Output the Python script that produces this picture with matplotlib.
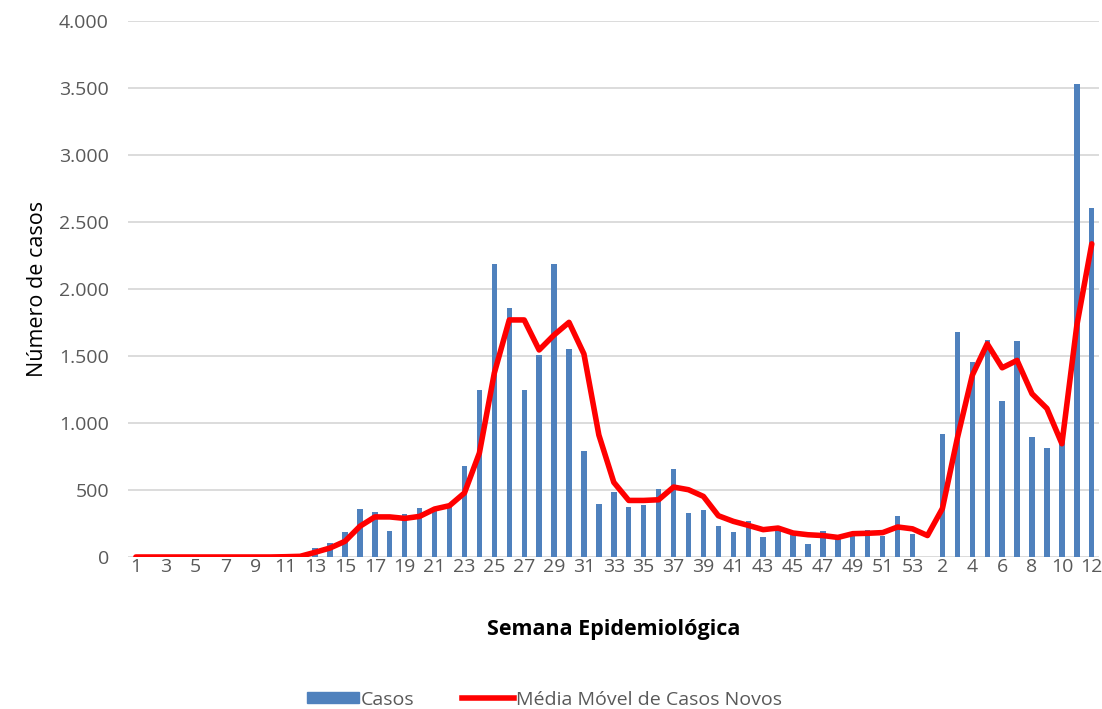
import matplotlib.pyplot as plt
import numpy as np
from matplotlib.ticker import FuncFormatter
from matplotlib.patches import Patch
from matplotlib.lines import Line2D

# semanas epidemiologicas: 1..53 (2020) + 1..12 (2021)
weeks = list(range(1, 54)) + list(range(1, 13))

casos = [0, 0, 0, 0, 0, 0, 0, 0, 0, 0,
         0, 10, 65, 105, 190, 358, 333, 196, 323, 368,
         340, 378, 680, 1249, 2187, 1858, 1249, 1508, 2189, 1552,
         791, 395, 485, 373, 390, 505, 660, 329, 354, 234,
         187, 271, 147, 204, 184, 95, 194, 150, 155, 202,
         155, 307, 169,
         0, 920, 1680, 1453, 1619, 1163, 1610, 892, 812, 870, 3533, 2605]

media_movel = [0, 0, 0, 0, 0, 0, 0, 0, 0, 0,
               2, 5, 35, 67, 117, 229, 299, 299, 288, 303,
               358, 383, 478, 776, 1373, 1769, 1769, 1545, 1657, 1751,
               1515, 910, 557, 422, 422, 427, 522, 502, 452, 308,
               266, 236, 204, 216, 179, 166, 160, 146, 174, 177,
               182, 224, 210,
               160, 362, 887, 1356, 1591, 1412, 1467, 1218, 1108, 845, 1729, 2337]

x = np.arange(len(weeks))
FONT = "Open Sans"

fig = plt.figure(figsize=(11.02, 7.09), dpi=100)
ax = fig.add_axes([0.1165, 0.2144, 0.881, 0.756])

ax.bar(x, casos, width=0.36, color="#4F81BD", zorder=2)
ax.plot(x, media_movel, color="#FF0000", lw=4,
        solid_joinstyle="round", solid_capstyle="round", zorder=3)

ax.set_xlim(-0.5, len(weeks) - 0.5)
ax.set_ylim(0, 4000)
ax.set_yticks(np.arange(0, 4001, 500))
ax.yaxis.set_major_formatter(FuncFormatter(lambda v, p: f"{int(v):,}".replace(",", ".")))
ax.set_xticks(x[::2])
ax.set_xticklabels([str(w) for w in weeks[::2]])

ax.grid(axis="y", color="#D9D9D9", lw=1.3, zorder=0)
ax.set_axisbelow(True)
for s in ax.spines.values():
    s.set_visible(False)
ax.tick_params(length=0, labelsize=14, colors="#595959")
ax.tick_params(axis="y", pad=14)
ax.tick_params(axis="x", pad=1)
for lab in ax.get_xticklabels() + ax.get_yticklabels():
    lab.set_fontfamily(FONT)

ax.set_ylabel("Número de casos", fontsize=15.5, family=FONT, labelpad=8)
ax.set_xlabel("Semana Epidemiológica", fontsize=15.5, family=FONT,
              fontweight="bold", labelpad=31)

handles = [Patch(color="#4F81BD"), Line2D([], [], color="#FF0000", lw=4)]
leg = fig.legend(handles, ["Casos", "Média Móvel de Casos Novos"],
                 loc="lower center", bbox_to_anchor=(0.494, -0.024), ncol=2, frameon=False,
                 prop={"family": FONT, "size": 14}, handlelength=2.7, handleheight=0.55,
                 columnspacing=2.4, handletextpad=0.1)
for t in leg.get_texts():
    t.set_color("#595959")

fig.savefig("out.png", dpi=100)
